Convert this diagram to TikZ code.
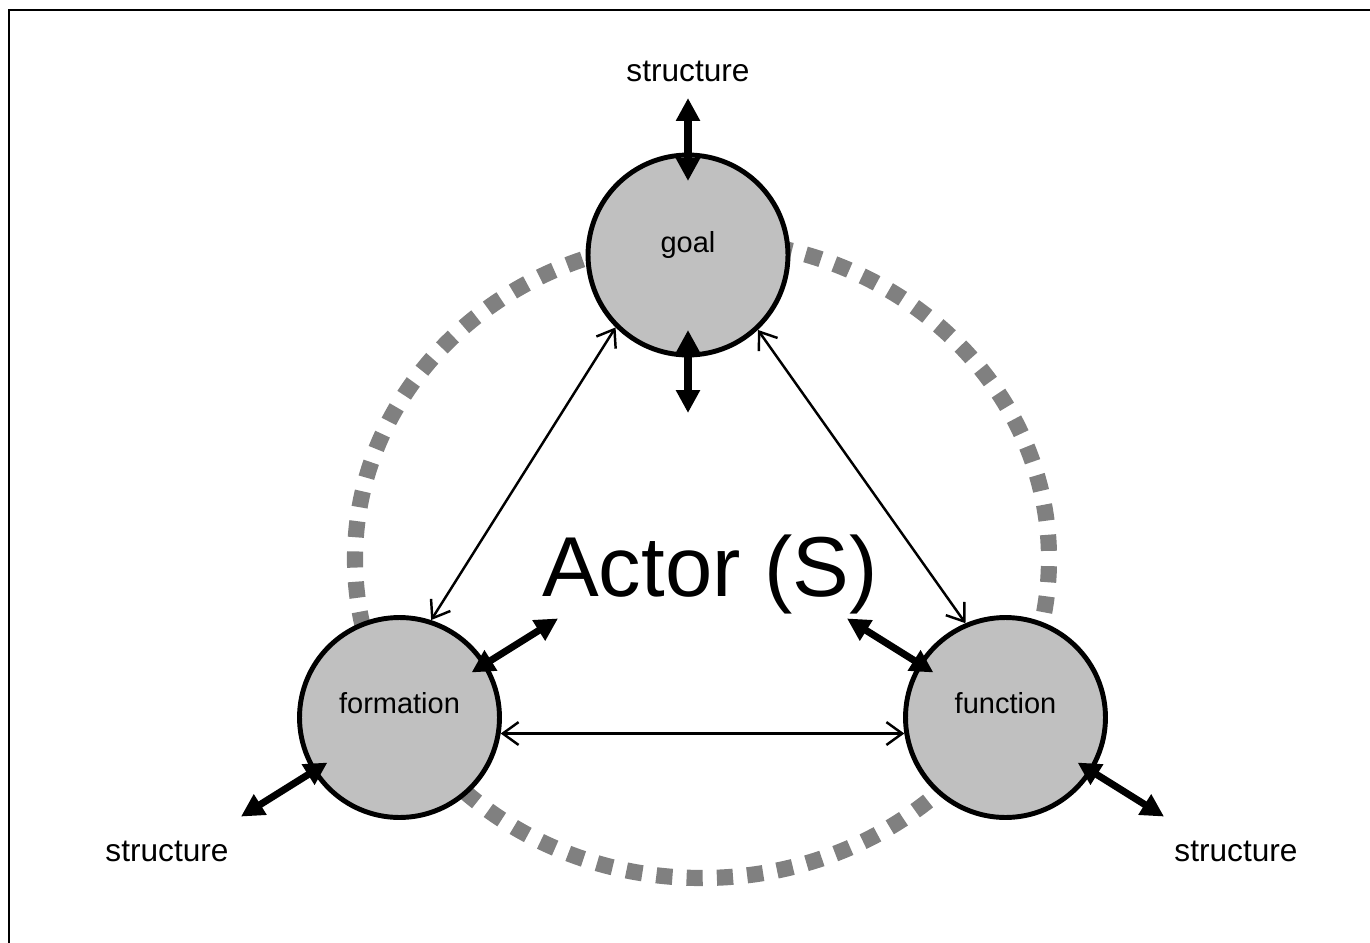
\documentclass[tikz,border=0pt]{standalone}
\usepackage{fontspec}
\setmainfont{Liberation Sans}
\definecolor{ballgray}{RGB}{192,192,192}
\definecolor{ringgray}{RGB}{128,128,128}
\usetikzlibrary{calc, arrows.meta}

\begin{document}
\begin{tikzpicture}[
    x=0.02cm, y=-0.02cm,
    ball/.style={circle, draw=black, fill=ballgray, line width=2.8pt,
      minimum size=4cm, inner sep=0pt},
    balltext/.style={anchor=base, font=\fontsize{16.5}{18}\selectfont},
    outertext/.style={anchor=base, font=\fontsize{18}{20}\selectfont},
    ring/.style={draw=ringgray, line width=9.2pt,
      dash pattern=on 9.2pt off 8.06pt, dash phase=13.2pt},
    link/.style={line width=1.4pt,
      {Straight Barb[length=9pt,width=13pt]}-{Straight Barb[length=9pt,width=13pt]}},
    push/.style={line width=4pt,
      {Triangle[length=13pt,width=13pt]}-{Triangle[length=13pt,width=13pt]}},
  ]
    \useasboundingbox (0,0) rectangle (1370,943);
    \draw[line width=1.1pt] (9,943) -- (9,10) -- (1370,10);

    \draw[ring] (702,559) ellipse [x radius=347, y radius=319];

    \node[ball] (goal) at (688,255) {};
    \node[ball] (formation) at (399.5,717.5) {};
    \node[ball] (function) at (1005.5,717.5) {};

    \node[balltext] (goalname) at (688,252) {goal};
    \node[balltext] (formationname) at (399.5,713) {formation};
    \node[balltext] (functionname) at (1005.5,713) {function};

    \node[anchor=base, font=\fontsize{48.4}{52}\selectfont] (actor) at (710,596) {Actor (S)};

    \node[outertext] (topstructure) at (688,81) {structure};
    \node[outertext] (leftstructure) at (167,861) {structure};
    \node[outertext] (rightstructure) at (1236,861) {structure};

    \draw[link] (goal.225) -- (formation.72);
    \draw[link] (goal.313) -- (function.113);
    \draw[link] (formation.-9) -- (function.189);

    \draw[push] ($(goal.center)+(90:1.48cm)$) -- ($(goal.center)+(90:3.14cm)$);
    \draw[push] ($(goal.center)+(270:1.5cm)$) -- ($(goal.center)+(270:3.16cm)$);
    \draw[push] ($(formation.center)+(32:1.7cm)$) -- ($(formation.center)+(32:3.74cm)$);
    \draw[push] ($(formation.center)+(212:1.7cm)$) -- ($(formation.center)+(212:3.74cm)$);
    \draw[push] ($(function.center)+(148:1.7cm)$) -- ($(function.center)+(148:3.74cm)$);
    \draw[push] ($(function.center)+(-32:1.7cm)$) -- ($(function.center)+(-32:3.74cm)$);
  \end{tikzpicture}
\end{document}
